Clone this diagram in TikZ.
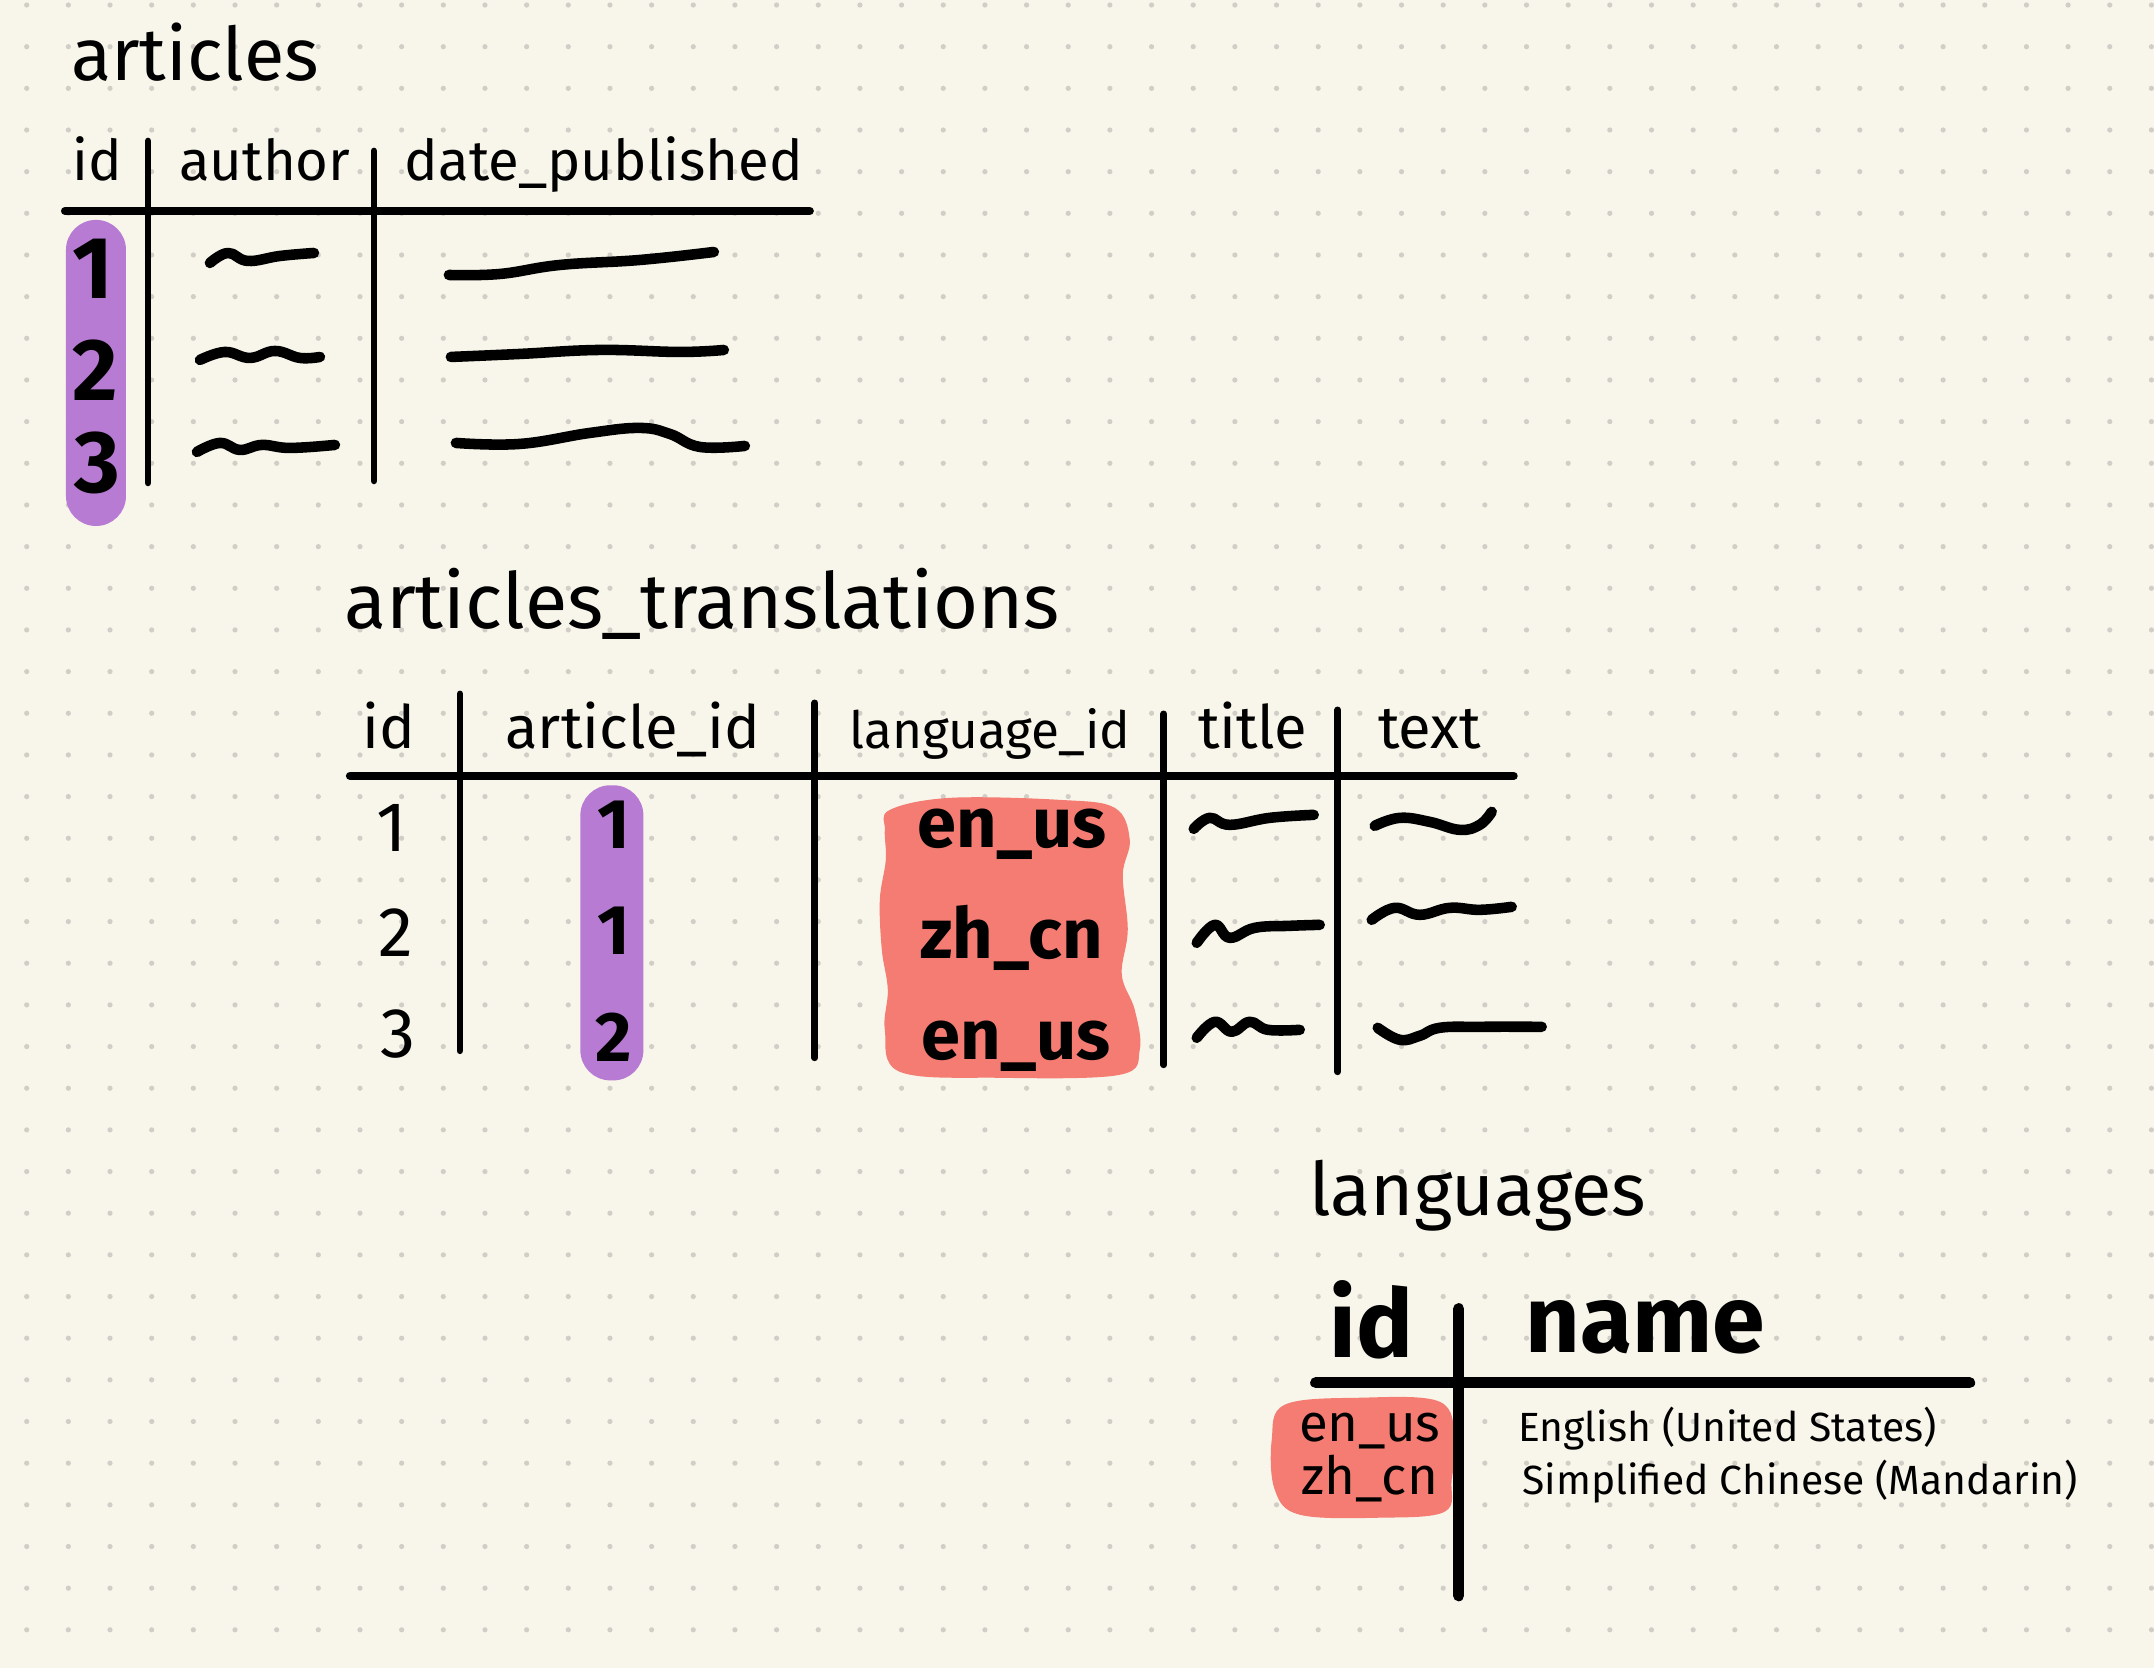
\documentclass[tikz,border=0pt]{standalone}
\usepackage{fontspec}
\setmainfont{Fira Sans}
\usetikzlibrary{positioning}

\definecolor{paper}{RGB}{248,246,234}
\definecolor{griddot}{RGB}{208,206,198}
\definecolor{keypurple}{RGB}{183,123,211}
\definecolor{keyred}{RGB}{244,124,114}

\tikzset{
  tname/.style={font=\fontsize{21}{24}\selectfont, anchor=base},
  colhead/.style={font=\fontsize{16}{19}\selectfont, anchor=base},
  cellbig/.style={font=\bfseries\fontsize{25}{28}\selectfont, anchor=base},
  cell/.style={font=\fontsize{20}{24}\selectfont, anchor=base},
  cellbold/.style={font=\bfseries\fontsize{20}{24}\selectfont, anchor=base},
  cellsmall/.style={font=\fontsize{11.6}{14}\selectfont, anchor=base},
  rule/.style={line width=2.3pt, line cap=round},
  sep/.style={line width=1.9pt, line cap=round},
  squig/.style={line width=3pt, line cap=round, line join=round},
  pill/.style={fill=keypurple, draw=none, rounded corners=0.3cm},
  blob/.style={fill=keyred, draw=none}
}

\begin{document}
\begin{tikzpicture}[x=0.01cm, y=-0.01cm, every node/.style={inner sep=0pt}]
  % paper and dot grid
  \fill[paper] (0,0) rectangle (2154,1668);
  \foreach \i in {0,...,51}
    \foreach \j in {0,...,39}
      \fill[griddot] (26.7+41.67*\i, 5+41.67*\j) circle[radius=0.026cm];

  % ---- articles ----
  \node[pill, minimum width=0.6cm, minimum height=3.06cm] (artpill) at (96,373) {};
  \node[tname] (arttitle) at (195,80) {articles};
  \node[colhead] (art-id) at (97,181) {id};
  \node[colhead] (art-author) at (265,181) {author};
  \node[colhead] (art-date) at (604,181) {date\_published};
  \draw[rule] (65,211) -- (810,211);
  \draw[sep] (148,141) -- (148,483);
  \draw[sep] (374,151) -- (374,481);
  \node[cellbig] (art-r1) at (93,299) {1};
  \node[cellbig] (art-r2) at (95,401) {2};
  \node[cellbig] (art-r3) at (97,493) {3};
  % author placeholders
  \draw[squig] plot[smooth, tension=0.7] coordinates {(210,263) (228,253) (248,261) (280,256) (314,253)};
  \draw[squig] plot[smooth, tension=0.7] coordinates {(200,360) (225,352) (250,358) (275,351) (300,358) (320,357)};
  \draw[squig] plot[smooth, tension=0.7] coordinates {(197,452) (220,443) (240,450) (262,445) (290,448) (335,445)};
  % date placeholders
  \draw[squig] plot[smooth, tension=0.7] coordinates {(449,275) (500,274) (560,265) (640,260) (714,252)};
  \draw[squig] plot[smooth, tension=0.7] coordinates {(451,357) (520,354) (600,350) (680,352) (724,350)};
  \draw[squig] plot[smooth, tension=0.7] coordinates {(456,443) (520,444) (590,433) (640,428) (670,434) (700,447) (745,446)};

  % ---- articles_translations ----
  \node[pill, minimum width=0.63cm, minimum height=2.95cm] (trpill) at (612,933) {};
  \fill[blob] plot[smooth cycle, tension=0.6] coordinates {(890,810) (950,798) (1060,800) (1115,808) (1130,840)
    (1123,875) (1128,930) (1122,975) (1135,1010) (1140,1050) (1120,1075) (1000,1078) (900,1072)
    (885,1030) (888,990) (882,950) (880,900) (886,860) (885,830)};
  \node[tname, font=\fontsize{22}{26}\selectfont] (trtitle) at (702,629) {articles\_translations};
  \node[colhead, font=\fontsize{17}{20}\selectfont] (tr-id) at (389,749) {id};
  \node[colhead, font=\fontsize{17}{20}\selectfont] (tr-article) at (633,749) {article\_id};
  \node[colhead, font=\fontsize{14.6}{18}\selectfont] (tr-lang) at (990,749) {language\_id};
  \node[colhead, font=\fontsize{17}{20}\selectfont] (tr-title) at (1253,749) {title};
  \node[colhead, font=\fontsize{17}{20}\selectfont] (tr-text) at (1430,749) {text};
  \draw[rule] (350,776) -- (1514,776);
  \draw[sep] (460,694) -- (460,1051);
  \draw[sep] (815,703) -- (815,1058);
  \draw[sep] (1164,714) -- (1164,1065);
  \draw[sep] (1338,710) -- (1338,1072);
  \node[cell] (tr-r1) at (392,852) {1};
  \node[cell] (tr-r2) at (396,957) {2};
  \node[cell] (tr-r3) at (398,1058) {3};
  \node[cellbold] (tr-a1) at (614,849) {1};
  \node[cellbold] (tr-a2) at (614,955) {1};
  \node[cellbold] (tr-a3) at (614,1062) {2};
  \node[cellbold] (tr-l1) at (1012,848) {en\_us};
  \node[cellbold] (tr-l2) at (1012,959) {zh\_cn};
  \node[cellbold] (tr-l3) at (1016,1060) {en\_us};
  % title placeholders
  \draw[squig] plot[smooth, tension=0.7] coordinates {(1194,829) (1210,818) (1230,825) (1270,818) (1314,815)};
  \draw[squig] plot[smooth, tension=0.7] coordinates {(1197,943) (1215,925) (1230,938) (1255,928) (1290,926) (1320,925)};
  \draw[squig] plot[smooth, tension=0.7] coordinates {(1197,1038) (1215,1022) (1232,1032) (1250,1022) (1268,1030) (1300,1030)};
  % text placeholders
  \draw[squig] plot[smooth, tension=0.7] coordinates {(1375,826) (1400,818) (1430,822) (1460,830) (1480,825) (1492,812)};
  \draw[squig] plot[smooth, tension=0.7] coordinates {(1372,920) (1395,908) (1420,915) (1450,908) (1480,910) (1512,907)};
  \draw[squig] plot[smooth, tension=0.7] coordinates {(1378,1028) (1400,1040) (1420,1036) (1440,1028) (1480,1027) (1542,1027)};

  % ---- languages ----
  \fill[blob] plot[smooth cycle, tension=0.6] coordinates {(1285,1405) (1360,1398) (1440,1402) (1455,1440)
    (1452,1480) (1445,1512) (1380,1518) (1300,1515) (1275,1490) (1272,1440)};
  \node[tname] (langtitle) at (1478,1216) {languages};
  \node[cellbig, font=\bfseries\fontsize{27}{30}\selectfont] (lang-id) at (1372,1358) {id};
  \node[cellbig, font=\bfseries\fontsize{27}{30}\selectfont] (lang-name) at (1646,1353) {name};
  \draw[rule, line width=3.2pt] (1316,1383) -- (1970,1383);
  \draw[sep, line width=3.2pt] (1459,1309) -- (1459,1596);
  \node[cellsmall, font=\fontsize{15}{18}\selectfont] (lang-v1) at (1370,1442) {en\_us};
  \node[cellsmall, font=\fontsize{15}{18}\selectfont] (lang-v2) at (1370,1495) {zh\_cn};
  \node[cellsmall, anchor=base west] (lang-n1) at (1518,1442) {English (United States)};
  \node[cellsmall, anchor=base west] (lang-n2) at (1522,1495) {Simplified Chinese (Mandarin)};
\end{tikzpicture}
\end{document}
